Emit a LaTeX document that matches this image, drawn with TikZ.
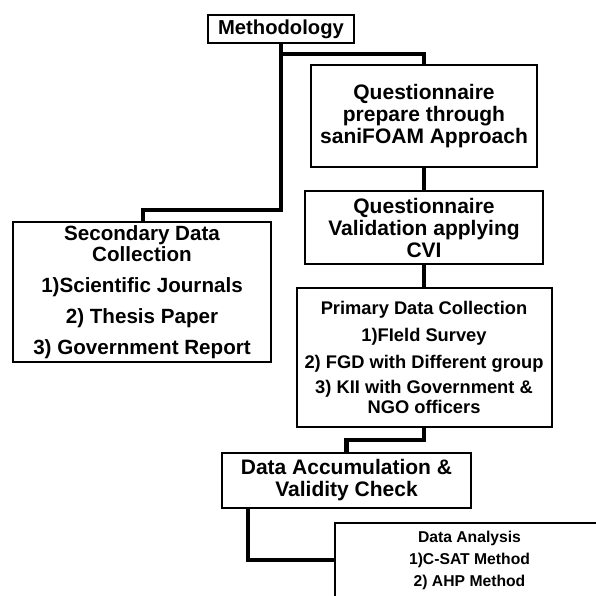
\documentclass[tikz,border=0pt]{standalone}
\usepackage{fontspec}
\setmainfont{Liberation Sans}
\usetikzlibrary{positioning,calc}

\begin{document}
\begin{tikzpicture}[
        x=1pt, y=-1pt,
        font=\bfseries,
        node distance=22pt,
        box/.style={draw, line width=2pt, fill=white, align=center, inner sep=2pt},
        big/.style={font=\bfseries\fontsize{21}{22}\selectfont},
        mid/.style={font=\bfseries\fontsize{18.3}{20}\selectfont},
        small/.style={font=\bfseries\fontsize{15.7}{22}\selectfont},
        link/.style={line width=4.5pt}
    ]
    \clip (0,0) rectangle (596,595);
    \fill[white] (0,0) rectangle (596,595);

    \node[box, font=\bfseries\fontsize{20.2}{22}\selectfont,
        minimum width=146pt, minimum height=28pt] (meth) at (281,29) {Methodology};
    \node[box, big, minimum width=226pt, minimum height=102pt] (qprep) at (424,116)
    {Questionnaire\\prepare through\\saniFOAM Approach};
    \node[box, big, below=of qprep, minimum width=238pt, minimum height=73pt] (qvalid)
    {Questionnaire\\Validation applying\\CVI};
    \node[box, mid, below=of qvalid, minimum width=255pt, minimum height=139pt] (primary)
    {Primary Data Collection\\[7pt]1)FIeld Survey\\[7pt]2) FGD with Different group\\[5pt]
    3) KII with Government \&\\NGO officers};
    \node[box, font=\bfseries\fontsize{20.6}{21}\selectfont,
        minimum width=258pt, minimum height=140pt] (second) at (142,292)
    {Secondary Data\\Collection\\[10pt]1)Scientific Journals\\[10pt]2) Thesis Paper\\[10pt]
    3) Government Report};
    \node[box, big, minimum width=249pt, minimum height=55pt] (dataacc) at (346.5,480.5)
    {Data Accumulation \&\\Validity Check};
    \node[box, small, anchor=north west, minimum width=269pt, minimum height=74pt]
    (analysis) at (334,522) {Data Analysis\\1)C-SAT Method\\2) AHP Method};

    % connectors
    \coordinate (bend1) at (424,54);
    \coordinate (bend2) at (143,210);
    \draw[link] (meth.south) |- (bend1) -- (qprep.north);
    \draw[link] (meth.south) |- (bend2) -- (bend2 |- second.north);
    \draw[link] (qprep) -- (qvalid);
    \draw[link] (qvalid) -- (primary);
    \draw[link] (primary.south) |- ($(primary.south)!0.5!(dataacc.north)$) -| (dataacc.north);
    \draw[link] ([xshift=27pt]dataacc.south west) |- (analysis.west);
\end{tikzpicture}
\end{document}
